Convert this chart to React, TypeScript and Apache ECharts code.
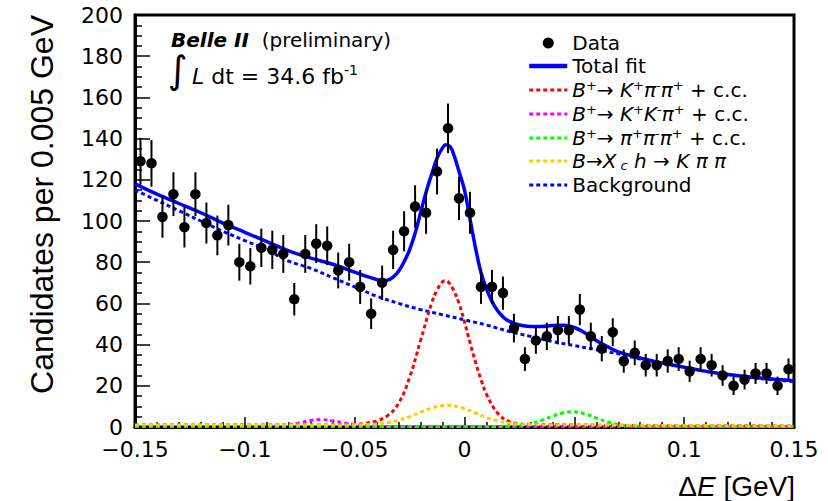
import React, { useEffect, useRef } from "react";
import * as echarts from "echarts";

// Histogram binning of Delta E (GeV)
const DE_MIN = -0.15;
const BIN_WIDTH = 0.005;

// Candidates per 0.005 GeV bin, from -0.15 to 0.15 GeV
const candidates = [
  129, 128, 102, 113, 97, 113, 99, 93, 98, 80,
  78, 87, 86, 84, 62, 84, 89, 88, 76, 80,
  68, 55, 70, 86, 95, 107, 104, 124, 145, 111,
  104, 68, 68, 65, 48, 33, 42, 44, 47, 47,
  57, 44, 38, 46, 32, 36, 30, 30, 32, 33,
  27, 33, 30, 25, 20, 23, 26, 26, 20, 28,
];

const binCenters = candidates.map((_, i) => +(DE_MIN + BIN_WIDTH * (i + 0.5)).toFixed(4));

// Fit projections, [Delta E, candidates per bin]
const totalFit: [number, number][] = [
  [-0.15, 118], [-0.14, 113], [-0.13, 108.5], [-0.12, 104], [-0.11, 99], [-0.1, 94.5],
  [-0.09, 90], [-0.08, 85.5], [-0.07, 82], [-0.06, 79], [-0.05, 75.2], [-0.045, 73.2],
  [-0.04, 71.6], [-0.0375, 71], [-0.035, 71.3], [-0.0325, 72.8], [-0.03, 75.6], [-0.0275, 80.2],
  [-0.025, 86], [-0.0225, 94], [-0.02, 104], [-0.0175, 114], [-0.015, 122.5], [-0.0125, 130.5],
  [-0.01, 135.5], [-0.0085, 137], [-0.0065, 136], [-0.0045, 131], [-0.0025, 124], [0, 115],
  [0.0025, 101], [0.005, 87], [0.0075, 75], [0.01, 67], [0.0125, 61], [0.015, 56.5],
  [0.0175, 53.5], [0.02, 51.5], [0.025, 49.5], [0.03, 48.8], [0.035, 48.8], [0.04, 49.3],
  [0.045, 49.4], [0.05, 48.3], [0.055, 45.5], [0.06, 42], [0.065, 39], [0.07, 36.5],
  [0.08, 33.5], [0.09, 31], [0.1, 29], [0.11, 27], [0.12, 25.5], [0.13, 24.3],
  [0.14, 23.3], [0.15, 22.5],
];

const kPiPi: [number, number][] = [
  [-0.15, 1], [-0.1, 1], [-0.06, 1], [-0.05, 1.3], [-0.045, 1.8], [-0.04, 3],
  [-0.035, 5.5], [-0.03, 11.5], [-0.025, 24], [-0.02, 42], [-0.015, 60], [-0.0125, 66.5],
  [-0.01, 70.5], [-0.009, 71], [-0.0075, 70.5], [-0.005, 66.5], [-0.0025, 60], [0, 51],
  [0.0025, 41], [0.005, 31.5], [0.0075, 23], [0.01, 16], [0.015, 6.8], [0.02, 2.8],
  [0.025, 1.6], [0.03, 1.2], [0.05, 1], [0.07, 0.8], [0.15, 0.5],
];

const kKPi: [number, number][] = [
  [-0.15, 0.3], [-0.09, 0.4], [-0.085, 0.6], [-0.08, 1], [-0.075, 2], [-0.07, 3.2],
  [-0.065, 3.6], [-0.06, 3], [-0.055, 2], [-0.05, 1.2], [-0.045, 0.6], [-0.04, 0.3],
  [0.15, 0.2],
];

const piPiPi: [number, number][] = [
  [-0.15, 0.3], [0.015, 0.3], [0.02, 0.4], [0.025, 0.7], [0.03, 1.6], [0.035, 3.2],
  [0.04, 5.2], [0.045, 6.9], [0.049, 7.4], [0.055, 6.3], [0.06, 4.4], [0.065, 2.5],
  [0.07, 1.1], [0.075, 0.5], [0.08, 0.3], [0.15, 0.2],
];

const xcH: [number, number][] = [
  [-0.15, 1], [-0.06, 1], [-0.05, 1.05], [-0.04, 1.5], [-0.035, 2.1], [-0.03, 3.3],
  [-0.025, 5], [-0.02, 7.2], [-0.015, 9.2], [-0.01, 10.4], [-0.008, 10.5], [-0.005, 10.25],
  [0, 8.9], [0.005, 6.8], [0.01, 4.6], [0.015, 3], [0.02, 1.9], [0.025, 1.4],
  [0.03, 1.15], [0.04, 1], [0.15, 0.5],
];

const background: [number, number][] = [
  [-0.15, 115], [-0.14, 110], [-0.13, 105], [-0.12, 100], [-0.11, 95], [-0.1, 90.5],
  [-0.09, 86], [-0.08, 80.5], [-0.07, 77], [-0.06, 72.5], [-0.05, 68], [-0.04, 63.5],
  [-0.03, 60], [-0.02, 57], [-0.01, 54.5], [0, 52], [0.01, 49.5], [0.02, 46.5],
  [0.03, 44], [0.04, 41.5], [0.05, 39.5], [0.06, 37.5], [0.07, 35.5], [0.08, 33],
  [0.09, 31], [0.1, 29], [0.11, 27], [0.12, 25.5], [0.13, 24], [0.14, 23], [0.15, 22],
];

const X_TICKS = { min: -0.15, max: 0.15, step: 0.05 };
const Y_TICKS = { min: 0, max: 200, step: 20 };

const FONT = "'Liberation Sans', Arial, Helvetica, sans-serif";
const WIDE = "'DejaVu Sans', 'Liberation Sans', sans-serif";

const NAMES = {
  data: "Data",
  total: "Total fit",
  kpipi: "B+ → K+π-π+ + c.c.",
  kkpi: "B+ → K+K-π+ + c.c.",
  pipipi: "B+ → π+π-π+ + c.c.",
  xch: "B → Xc h → Kππ",
  bkg: "Background",
};

const LEGEND_RICH_TEXT: Record<string, string> = {
  [NAMES.data]: "{n|Data}",
  [NAMES.total]: "{n|Total fit}",
  [NAMES.kpipi]: "{i|B}{sup|+}{n|→ }{i|K}{sup|+}{i|π}{sup|-}{i|π}{sup|+}{n| + c.c.}",
  [NAMES.kkpi]: "{i|B}{sup|+}{n|→ }{i|K}{sup|+}{i|K}{sup|-}{i|π}{sup|+}{n| + c.c.}",
  [NAMES.pipipi]: "{i|B}{sup|+}{n|→ }{i|π}{sup|+}{i|π}{sup|-}{i|π}{sup|+}{n| + c.c.}",
  [NAMES.xch]: "{i|B}{n|→}{i|X}{sub| c}{i| h}{n| → }{i|K π π}",
  [NAMES.bkg]: "{n|Background}",
};

const LEG_FS = 20;
const legendRich = {
  n: { fontSize: LEG_FS, fontFamily: WIDE, color: "#000", lineHeight: 22 },
  i: { fontSize: LEG_FS, fontFamily: WIDE, fontStyle: "italic", color: "#000", lineHeight: 22 },
  sup: { fontSize: 13, fontFamily: WIDE, color: "#000", verticalAlign: "top", lineHeight: 22 },
  sub: { fontSize: 13, fontFamily: WIDE, fontStyle: "italic", color: "#000", verticalAlign: "bottom", lineHeight: 22 },
};

function fmtX(v: number): string {
  const r = Math.round(v * 100) / 100;
  if (r === 0) return "0";
  return (r < 0 ? "\u2212" : "") + String(Math.abs(r));
}

function dottedLine(name: string, data: [number, number][], color: string, z: number) {
  return {
    name,
    type: "line",
    data,
    smooth: 0.4,
    symbol: "none",
    showSymbol: false,
    z,
    lineStyle: { color, width: 3, type: [4, 3] },
    itemStyle: { color },
  };
}

export default function App() {
  const ref = useRef<HTMLDivElement>(null);

  useEffect(() => {
    if (!ref.current) return;
    document.body.style.margin = "0";
    const chart = echarts.init(ref.current, undefined, { renderer: "svg" });

    const errorBars = candidates.map((n, i) => {
      const e = Math.sqrt(n);
      return [binCenters[i], n - e, n + e];
    });
    const points = candidates.map((n, i) => [binCenters[i], n]);

    const axisCommon = {
      type: "value",
      splitLine: { show: false },
      axisLine: { show: true, onZero: false, lineStyle: { color: "#000", width: 3 } },
    };

    chart.setOption({
      animation: false,
      backgroundColor: "#fff",
      textStyle: { fontFamily: FONT },
      grid: {
        left: 135,
        right: 34,
        top: 15,
        bottom: 74,
        show: true,
        borderColor: "#000",
        borderWidth: 3,
        backgroundColor: "transparent",
      },
      xAxis: {
        ...axisCommon,
        min: X_TICKS.min,
        max: X_TICKS.max,
        interval: X_TICKS.step,
        axisTick: { show: true, inside: true, length: 10, lineStyle: { color: "#000", width: 1.5 } },
        minorTick: { show: true, splitNumber: 5, length: 5, lineStyle: { color: "#000", width: 1.5 } },
        axisLabel: {
          fontSize: 22,
          lineHeight: 18,
          color: "#000",
          margin: 13,
          fontFamily: WIDE,
          formatter: (v: number) => fmtX(v),
        },
      },
      yAxis: {
        ...axisCommon,
        min: Y_TICKS.min,
        max: Y_TICKS.max,
        interval: Y_TICKS.step,
        axisTick: { show: true, inside: true, length: 15, lineStyle: { color: "#000", width: 1.5 } },
        minorTick: { show: true, splitNumber: 4, length: 7, lineStyle: { color: "#000", width: 1.5 } },
        axisLabel: { fontSize: 22, lineHeight: 16, color: "#000", margin: 12, fontFamily: WIDE },
      },
      legend: {
        orient: "vertical",
        left: 527,
        top: 33,
        itemWidth: 38,
        itemHeight: 11,
        itemGap: 3,
        padding: 0,
        selectedMode: false,
        itemStyle: { opacity: 0 },
        lineStyle: { width: 3 },
        data: [
          { name: NAMES.data, icon: "circle", itemStyle: { color: "#000", opacity: 1 } },
          { name: NAMES.total, lineStyle: { width: 4.5 } },
          NAMES.kpipi,
          NAMES.kkpi,
          NAMES.pipipi,
          NAMES.xch,
          NAMES.bkg,
        ],
        formatter: (name: string) => LEGEND_RICH_TEXT[name] ?? name,
        textStyle: { fontSize: LEG_FS, color: "#000", fontFamily: WIDE, rich: legendRich },
      },
      graphic: [
        {
          type: "text",
          x: 171,
          y: 40,
          style: {
            text: "{b|Belle II}{n|  (preliminary)}",
            verticalAlign: "middle",
            rich: {
              b: { fontSize: 20, fontFamily: WIDE, fontWeight: "bold", fontStyle: "italic", fill: "#000" },
              n: { fontSize: 20, fontFamily: WIDE, fill: "#000" },
            },
          },
        },
        {
          type: "text",
          x: 168,
          y: 70,
          style: {
            text: "\u222B",
            fontSize: 38,
            fontFamily: "'DejaVu Sans', sans-serif",
            fill: "#000",
            verticalAlign: "middle",
          },
        },
        {
          type: "text",
          x: 192,
          y: 76,
          style: {
            text: "{i|L}{n| dt = 34.6 fb}{sup|-1}",
            verticalAlign: "middle",
            rich: {
              i: { fontSize: 22, fontFamily: WIDE, fontStyle: "italic", fill: "#000", lineHeight: 26 },
              n: { fontSize: 22, fontFamily: WIDE, fill: "#000", lineHeight: 26 },
              sup: { fontSize: 14, fontFamily: WIDE, fill: "#000", verticalAlign: "top", lineHeight: 26 },
            },
          },
        },
        {
          type: "text",
          x: 42,
          y: 15,
          rotation: Math.PI / 2,
          style: {
            text: "Candidates per 0.005 GeV",
            fontSize: 32,
            fontFamily: FONT,
            fill: "#000",
            align: "right",
            verticalAlign: "middle",
          },
        },
        {
          type: "text",
          x: 795,
          y: 486,
          style: {
            text: "{n|\u0394}{i|E}{n| [GeV]}",
            align: "right",
            verticalAlign: "middle",
            rich: {
              n: { fontSize: 28, fontFamily: FONT, fill: "#000" },
              i: { fontSize: 28, fontFamily: FONT, fontStyle: "italic", fill: "#000" },
            },
          },
        },
      ],
      series: [
        dottedLine(NAMES.bkg, background, "#0000ff", 2),
        dottedLine(NAMES.kpipi, kPiPi, "#ff0000", 2),
        dottedLine(NAMES.kkpi, kKPi, "#ff00ff", 2),
        dottedLine(NAMES.pipipi, piPiPi, "#00ff00", 2),
        dottedLine(NAMES.xch, xcH, "#ffcc00", 2),
        {
          name: NAMES.total,
          type: "line",
          data: totalFit,
          smooth: 0.4,
          symbol: "none",
          showSymbol: false,
          z: 3,
          lineStyle: { color: "#0000ff", width: 3.5 },
          itemStyle: { color: "#0000ff" },
        },
        {
          name: "errors",
          type: "custom",
          z: 4,
          data: errorBars,
          encode: { x: 0, y: [1, 2] },
          renderItem: (_params: any, api: any) => {
            const x = api.value(0);
            const p1 = api.coord([x, api.value(1)]);
            const p2 = api.coord([x, api.value(2)]);
            return {
              type: "line",
              shape: { x1: p1[0], y1: p1[1], x2: p2[0], y2: p2[1] },
              style: { stroke: "#000", lineWidth: 2 },
            };
          },
        },
        {
          name: NAMES.data,
          type: "scatter",
          data: points,
          symbol: "circle",
          symbolSize: 10.5,
          z: 5,
          itemStyle: { color: "#000", opacity: 1 },
        },
      ],
    });

    return () => chart.dispose();
  }, []);

  return <div ref={ref} style={{ width: 828, height: 501 }} />;
}
